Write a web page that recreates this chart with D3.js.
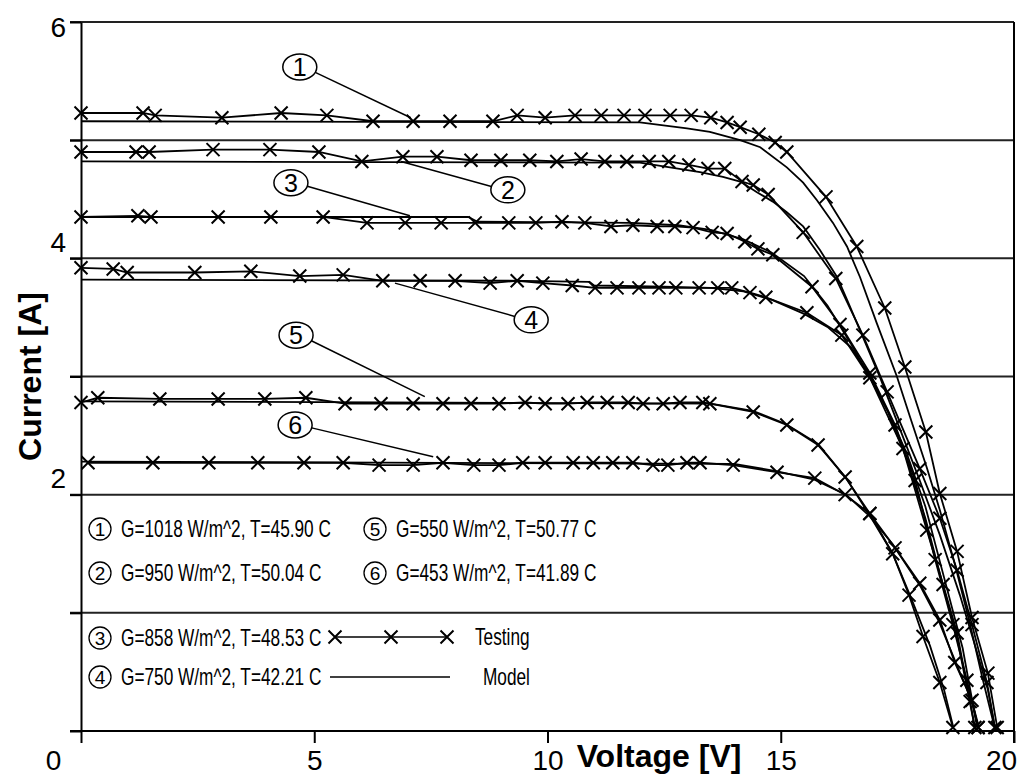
<!DOCTYPE html>
<meta charset="utf-8">
<style>
  body { margin: 0; background: #fff; }
  svg text { font-family: "Liberation Sans", Arial, sans-serif; fill: #000; }
  .grid line { stroke: #222; stroke-width: 2; }
  .axis path, .axis line { stroke: #000; stroke-width: 2; }
  .model { fill: none; stroke: #000; stroke-width: 1.8; }
  .test { fill: none; stroke: #000; stroke-width: 1.8; }
  .mark { stroke: #000; stroke-width: 2; }
</style>
<body>
<svg width="1022" height="778"></svg>
<script src="https://d3js.org/d3.v7.min.js"></script>
<script>
// axes
var xTicks = [0, 5, 10, 15, 20];
var yTicks = [0, 1, 2, 3, 4, 5, 6];
var yLabels = [0, 2, 4, 6];

// measured points, [voltage, current]
var test1 = [[0,5.23],[1.33,5.23],[1.59,5.21],[3.02,5.19],[4.29,5.23],[5.27,5.21],[6.26,5.16],[7.12,5.16],[7.91,5.16],[8.83,5.16],[9.35,5.21],[9.95,5.19],[10.59,5.21],[11.15,5.21],[11.64,5.21],[12.09,5.21],[12.63,5.21],[13.08,5.21],[13.50,5.19],[13.85,5.15],[14.13,5.11],[14.53,5.05],[14.88,4.98],[15.13,4.90],[15.97,4.52],[16.63,4.10],[17.23,3.58],[17.66,3.08],[18.11,2.53],[18.41,2.01],[18.78,1.52],[19.10,0.96],[19.44,0.49],[19.64,0.03]];
var test2 = [[0,4.90],[1.18,4.90],[1.46,4.90],[2.83,4.92],[4.05,4.92],[5.10,4.90],[6.02,4.82],[6.90,4.86],[7.63,4.86],[8.36,4.83],[9.00,4.83],[9.62,4.83],[10.20,4.82],[10.72,4.84],[11.23,4.82],[11.70,4.82],[12.18,4.82],[12.60,4.82],[13.03,4.79],[13.44,4.76],[13.80,4.76],[14.17,4.65],[14.41,4.62],[14.73,4.54],[15.48,4.22],[16.18,3.83],[16.76,3.35],[17.28,2.87],[17.98,2.22],[18.41,1.80],[18.78,1.36],[19.10,0.90],[19.42,0.41],[19.59,0.03]];
var test3 = [[0,4.35],[1.22,4.36],[1.50,4.35],[2.94,4.35],[4.07,4.35],[5.19,4.35],[6.13,4.30],[6.95,4.30],[7.72,4.30],[8.45,4.30],[9.17,4.30],[9.75,4.30],[10.31,4.31],[10.80,4.30],[11.36,4.27],[11.83,4.28],[12.35,4.27],[12.73,4.27],[13.12,4.26],[13.53,4.22],[13.85,4.21],[14.23,4.14],[14.51,4.08],[14.83,4.03],[15.67,3.76],[16.27,3.44],[16.91,3.03],[17.45,2.59],[17.88,2.12],[18.31,1.45],[18.69,0.90],[18.99,0.43],[19.23,0.03]];
var test4 = [[0,3.92],[0.69,3.91],[0.99,3.88],[2.44,3.88],[3.64,3.89],[4.69,3.85],[5.62,3.86],[6.47,3.81],[7.27,3.81],[8.02,3.81],[8.77,3.79],[9.35,3.81],[9.90,3.79],[10.53,3.77],[11.02,3.75],[11.49,3.75],[11.96,3.75],[12.39,3.75],[12.75,3.75],[13.25,3.75],[13.65,3.75],[13.95,3.75],[14.34,3.71],[14.68,3.67],[15.56,3.54],[16.31,3.35],[16.91,2.99],[17.62,2.39],[18.13,1.70],[18.48,1.24],[18.78,0.83],[19.06,0.25],[19.16,0.03]];
var test5 = [[0,2.78],[0.36,2.82],[1.69,2.81],[2.94,2.81],[3.94,2.81],[4.82,2.82],[5.66,2.77],[6.43,2.77],[7.12,2.77],[7.76,2.77],[8.36,2.77],[8.96,2.77],[9.52,2.78],[9.95,2.77],[10.44,2.77],[10.85,2.78],[11.28,2.78],[11.73,2.78],[12.05,2.77],[12.48,2.77],[12.84,2.78],[13.33,2.78],[13.48,2.77],[14.41,2.70],[15.13,2.59],[15.80,2.42],[16.38,2.15],[16.91,1.84],[17.40,1.50],[17.75,1.15],[18.05,0.80],[18.41,0.41],[18.69,0.03]];
var test6 = [[0.15,2.27],[1.54,2.27],[2.74,2.27],[3.79,2.27],[4.78,2.27],[5.62,2.27],[6.39,2.25],[7.12,2.25],[7.76,2.27],[8.42,2.25],[8.96,2.25],[9.47,2.27],[9.95,2.27],[10.55,2.27],[10.98,2.27],[11.40,2.27],[11.83,2.27],[12.26,2.25],[12.58,2.25],[12.99,2.27],[13.27,2.27],[13.98,2.25],[14.92,2.19],[15.73,2.14],[16.38,2.00],[16.91,1.84],[17.45,1.55],[17.98,1.25],[18.41,0.94],[18.73,0.58],[19.10,0.26],[19.23,0.03]];

// model curves
var model1 = [[0,5.16],[11.98,5.15],[12.99,5.10],[13.48,5.07],[14.13,5.00],[14.56,4.94],[15.13,4.77],[15.48,4.64],[15.78,4.49],[16.12,4.30],[16.42,4.10],[16.70,3.84],[17.06,3.45],[17.49,3.00],[17.77,2.66],[18.13,2.23],[18.41,1.87],[18.74,1.40],[19.06,0.90],[19.31,0.47],[19.59,0.02]];
var model2 = [[0,4.82],[11.98,4.81],[13.27,4.73],[13.76,4.69],[14.13,4.65],[14.49,4.56],[14.83,4.48],[15.13,4.39],[15.48,4.27],[15.84,4.07],[16.21,3.84],[16.42,3.65],[16.70,3.39],[17.13,2.99],[17.56,2.55],[17.98,2.12],[18.41,1.66],[18.84,1.15],[19.16,0.73],[19.44,0.35],[19.59,0.03]];
var model3 = [[0,4.35],[8.3,4.35],[8.5,4.31],[11.8,4.30],[12.8,4.28],[13.5,4.24],[14.2,4.16],[14.8,4.05],[15.5,3.85],[16.0,3.60],[16.5,3.28],[16.9,3.00],[17.3,2.70],[17.7,2.35],[18.1,1.90],[18.5,1.30],[18.9,0.70],[19.2,0.05]];
var model4 = [[0,3.82],[9.5,3.81],[10.9,3.80],[11.0,3.77],[12.5,3.76],[13.5,3.75],[14.2,3.72],[14.8,3.65],[15.5,3.53],[16.0,3.42],[16.5,3.25],[16.9,3.02],[17.3,2.70],[17.7,2.30],[18.1,1.80],[18.5,1.20],[18.8,0.75],[19.15,0.05]];
var model5 = [[0,2.79],[13.5,2.77],[14.4,2.71],[15.1,2.60],[15.8,2.43],[16.4,2.14],[16.9,1.83],[17.4,1.50],[17.8,1.12],[18.2,0.72],[18.5,0.35],[18.7,0.03]];
var model6 = [[0,2.28],[14.0,2.26],[14.9,2.20],[15.7,2.13],[16.4,2.00],[16.9,1.82],[17.4,1.58],[18.0,1.22],[18.4,0.92],[18.75,0.58],[19.1,0.25],[19.25,0.03]];

var tests = [test1, test2, test3, test4, test5, test6];
var models = [model1, model2, model3, model4, model5, model6];

var conditions = ["G=1018 W/m^2, T=45.90 C", "G=950 W/m^2, T=50.04 C", "G=858 W/m^2, T=48.53 C",
                  "G=750 W/m^2, T=42.21 C", "G=550 W/m^2, T=50.77 C", "G=453 W/m^2, T=41.89 C"];

// callout bubbles: number, bubble centre, end of leader (data units)
var callouts = [
  {n: 1, v: 4.69, i: 5.62, v2: 7.07, i2: 5.19},
  {n: 2, v: 9.15, i: 4.58, v2: 6.86, i2: 4.82},
  {n: 3, v: 4.50, i: 4.64, v2: 7.05, i2: 4.36},
  {n: 4, v: 9.65, i: 3.48, v2: 6.73, i2: 3.79},
  {n: 5, v: 4.61, i: 3.35, v2: 7.37, i2: 2.83},
  {n: 6, v: 4.59, i: 2.59, v2: 7.55, i2: 2.32}
];

var svg = d3.select("svg");
var m = {left: 81, right: 1014, top: 22, bottom: 731};

var x = d3.scaleLinear().domain([0, 20]).range([m.left, m.right]);
var y = d3.scaleLinear().domain([0, 6]).range([m.bottom, m.top]);

// horizontal grid
svg.append("g").attr("class", "grid")
  .selectAll("line").data(yTicks.slice(1)).enter().append("line")
  .attr("x1", m.left - 11).attr("x2", m.right)
  .attr("y1", function(d) { return y(d); }).attr("y2", function(d) { return y(d); });

// right border
svg.append("line").attr("x1", m.right).attr("x2", m.right).attr("y1", m.top).attr("y2", m.bottom + 12)
  .attr("stroke", "#000").attr("stroke-width", 2);

// x axis
var xAxis = svg.append("g").attr("class", "axis")
  .attr("transform", "translate(0," + m.bottom + ")")
  .call(d3.axisBottom(x).tickValues(xTicks).tickSize(12).tickSizeOuter(0).tickFormat(d3.format("d")));
xAxis.select(".domain").attr("d", "M" + (m.left - 11) + ",0H" + m.right);
xAxis.selectAll("text")
  .style("font-size", "28px")
  .attr("y", 19)
  .attr("dx", function(d) { return d == 0 ? -28 : (d == 20 ? -13 : 0); });

// y axis
var yAxis = svg.append("g").attr("class", "axis")
  .attr("transform", "translate(" + m.left + ",0)")
  .call(d3.axisLeft(y).tickValues(yTicks).tickSize(11).tickSizeOuter(0)
    .tickFormat(function(d) { return (yLabels.indexOf(d) >= 0 && d > 0) ? d : ""; }));
yAxis.selectAll("text")
  .style("font-size", "28px")
  .attr("x", -15)
  .attr("dy", function(d) { return d == 6 ? "0.5em" : "-0.25em"; });

// axis titles
svg.append("text").attr("x", 659).attr("y", 767)
  .attr("text-anchor", "middle").style("font-size", "32px").style("font-weight", "bold")
  .text("Voltage [V]");
svg.append("text").attr("transform", "translate(41," + y(3) + ") rotate(-90)")
  .attr("text-anchor", "middle").style("font-size", "32px").style("font-weight", "bold")
  .text("Current [A]");

var line = d3.line().x(function(d) { return x(d[0]); }).y(function(d) { return y(d[1]); });

// model curves
svg.selectAll(".model").data(models).enter().append("path")
  .attr("class", "model").attr("d", line);

// testing curves with X markers
svg.selectAll(".test").data(tests).enter().append("path")
  .attr("class", "test").attr("d", line);

var cross = "M-6.5,-6.5L6.5,6.5M-6.5,6.5L6.5,-6.5";
tests.forEach(function(t) {
  svg.append("g").selectAll("path").data(t).enter().append("path")
    .attr("class", "mark")
    .attr("transform", function(d) { return "translate(" + x(d[0]) + "," + y(d[1]) + ")"; })
    .attr("d", cross);
});

// callouts
callouts.forEach(function(c) {
  var cx = x(c.v), cy = y(c.i), ex = x(c.v2), ey = y(c.i2);
  var rx = 17, ry = 13;
  var a = Math.atan2(ey - cy, ex - cx);
  svg.append("line")
    .attr("x1", cx + rx * Math.cos(a)).attr("y1", cy + ry * Math.sin(a))
    .attr("x2", ex).attr("y2", ey)
    .attr("stroke", "#000").attr("stroke-width", 1.5);
  svg.append("ellipse").attr("cx", cx).attr("cy", cy).attr("rx", rx).attr("ry", ry)
    .attr("fill", "none").attr("stroke", "#000").attr("stroke-width", 1.5);
  svg.append("text").attr("x", cx).attr("y", cy + 9)
    .attr("text-anchor", "middle").style("font-size", "25px").text(c.n);
});

// legend; the text face is squeezed sideways to look like a narrow font
var leg = svg.append("g");
var legRows = [
  {k: 0, px: 100, py: 529}, {k: 1, px: 100, py: 573},
  {k: 2, px: 100, py: 638}, {k: 3, px: 100, py: 677},
  {k: 4, px: 375, py: 529}, {k: 5, px: 375, py: 573}
];
function squeezed(px, py, s) {
  leg.append("text").attr("transform", "translate(" + px + "," + py + ") scale(0.75,1)")
    .style("font-size", "23px").text(s);
}
legRows.forEach(function(r) {
  leg.append("circle").attr("cx", r.px).attr("cy", r.py).attr("r", 11)
    .attr("fill", "none").attr("stroke", "#000").attr("stroke-width", 1.3);
  leg.append("text").attr("x", r.px).attr("y", r.py + 7).attr("text-anchor", "middle")
    .style("font-size", "19px").text(r.k + 1);
  squeezed(r.px + 21, r.py + 8, conditions[r.k]);
});

// testing / model keys
leg.append("line").attr("x1", 335).attr("x2", 447).attr("y1", 637).attr("y2", 637)
  .attr("stroke", "#000").attr("stroke-width", 1.5);
[335, 391, 447].forEach(function(px) {
  leg.append("path").attr("class", "mark").attr("transform", "translate(" + px + ",637)").attr("d", cross)
    .attr("stroke-width", 1.5);
});
squeezed(475, 645, "Testing");
leg.append("line").attr("x1", 330).attr("x2", 450).attr("y1", 677).attr("y2", 677)
  .attr("stroke", "#000").attr("stroke-width", 1.5);
squeezed(483, 685, "Model");
</script>
</body>
